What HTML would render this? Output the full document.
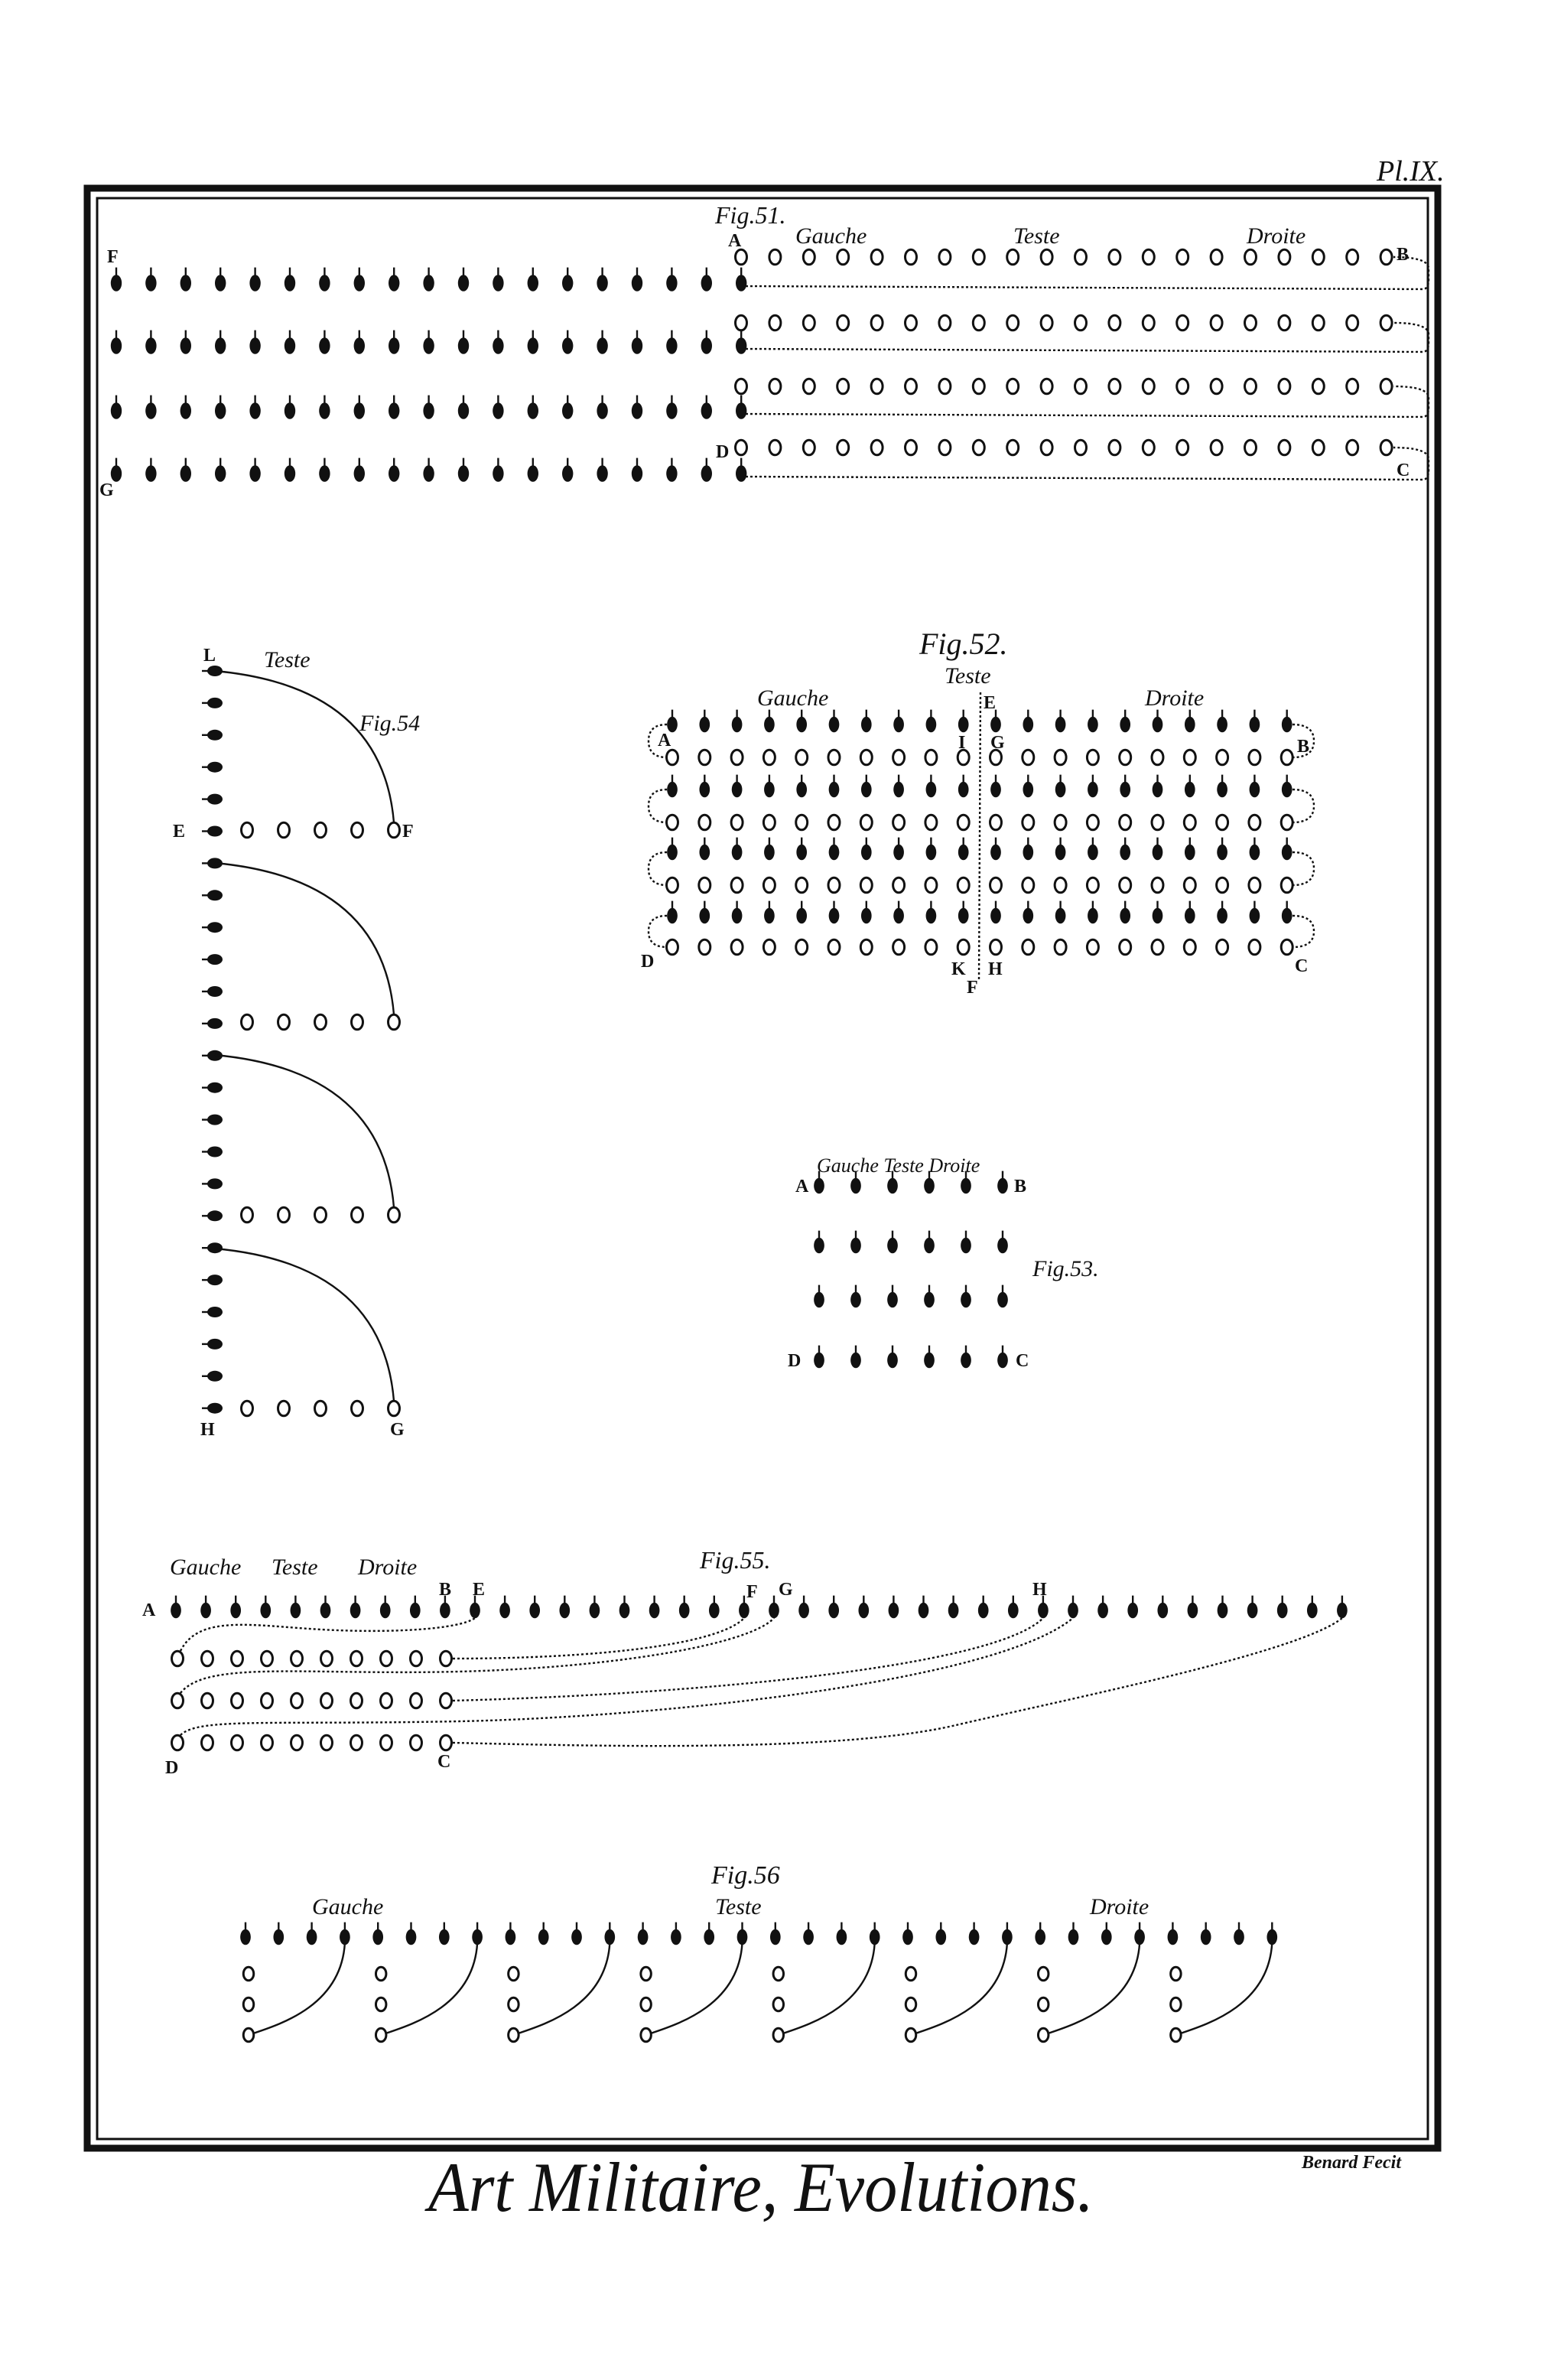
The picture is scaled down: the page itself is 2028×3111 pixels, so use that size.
<!DOCTYPE html>
<html><head><meta charset="utf-8">
<style>
html,body{margin:0;padding:0;background:#fff;}
svg{display:block;}
text{font-family:"Liberation Serif",serif;font-style:italic;fill:#111;}
.L{font-style:normal;font-weight:bold;font-size:24px;}
.w{font-size:30px;}
</style></head>
<body>
<svg id="s" width="2028" height="3111" viewBox="0 0 2028 3111" xmlns="http://www.w3.org/2000/svg">
<rect width="2028" height="3111" fill="#fff"/>
<rect x="114" y="246" width="1766" height="2562" fill="none" stroke="#111" stroke-width="9"/>
<rect x="127" y="259" width="1740" height="2537" fill="none" stroke="#111" stroke-width="3"/>
<text x="1800" y="236" style="font-size:38px">Pl.IX.</text>

<g id="g" fill="#111" stroke="#111"></g>

<text x="935" y="292" style="font-size:32px">Fig.51.</text>
<text class="L" x="952" y="322">A</text>
<text class="w" x="1040" y="318">Gauche</text>
<text class="w" x="1325" y="318">Teste</text>
<text class="w" x="1630" y="318">Droite</text>
<text class="L" x="1826" y="340">B</text>
<text class="L" x="140" y="343">F</text>
<text class="L" x="130" y="648">G</text>
<text class="L" x="936" y="598">D</text>
<text class="L" x="1826" y="622">C</text>

<text x="1202" y="855" style="font-size:40px">Fig.52.</text>
<text class="w" x="1235" y="893">Teste</text>
<text class="w" x="990" y="922">Gauche</text>
<text class="L" x="1286" y="926">E</text>
<text class="w" x="1497" y="922">Droite</text>
<text class="L" x="860" y="975">A</text>
<text class="L" x="1253" y="978">I</text>
<text class="L" x="1295" y="978">G</text>
<text class="L" x="1696" y="983">B</text>
<text class="L" x="838" y="1264">D</text>
<text class="L" x="1244" y="1274">K</text>
<text class="L" x="1292" y="1274">H</text>
<text class="L" x="1264" y="1298">F</text>
<text class="L" x="1693" y="1270">C</text>

<text class="L" x="266" y="864">L</text>
<text class="w" x="345" y="872">Teste</text>
<text x="470" y="955" style="font-size:30px">Fig.54</text>
<text class="L" x="226" y="1094">E</text>
<text class="L" x="526" y="1094">F</text>
<text class="L" x="262" y="1876">H</text>
<text class="L" x="510" y="1876">G</text>

<text style="font-size:26px" x="1068" y="1532">Gauche Teste Droite</text>
<text class="L" x="1040" y="1558">A</text>
<text class="L" x="1326" y="1558">B</text>
<text class="L" x="1030" y="1786">D</text>
<text class="L" x="1328" y="1786">C</text>
<text x="1350" y="1668" style="font-size:30px">Fig.53.</text>

<text class="w" x="222" y="2058">Gauche</text>
<text class="w" x="355" y="2058">Teste</text>
<text class="w" x="468" y="2058">Droite</text>
<text x="915" y="2050" style="font-size:32px">Fig.55.</text>
<text class="L" x="186" y="2112">A</text>
<text class="L" x="574" y="2085">B</text>
<text class="L" x="618" y="2085">E</text>
<text class="L" x="976" y="2088">F</text>
<text class="L" x="1018" y="2085">G</text>
<text class="L" x="1350" y="2085">H</text>
<text class="L" x="216" y="2318">D</text>
<text class="L" x="572" y="2310">C</text>

<text x="930" y="2462" style="font-size:34px">Fig.56</text>
<text class="w" x="408" y="2502">Gauche</text>
<text class="w" x="935" y="2502">Teste</text>
<text class="w" x="1425" y="2502">Droite</text>

<text x="1702" y="2834" style="font-size:24px;font-weight:bold">Benard Fecit</text>
<text x="560" y="2890" textLength="870" lengthAdjust="spacingAndGlyphs" style="font-size:92px">Art Militaire, Evolutions.</text>
</svg>
<script>
var g=document.getElementById('g'),NS='http://www.w3.org/2000/svg';
function el(t,a){var e=document.createElementNS(NS,t);for(var k in a)e.setAttribute(k,a[k]);g.appendChild(e);return e;}
function drop(x,y,s){s=(s||1)*1.2;el('ellipse',{cx:x,cy:y,rx:6*s,ry:9*s,stroke:'none'});el('line',{x1:x,y1:y-7*s,x2:x,y2:y-17*s,'stroke-width':2.4});}
function dropL(x,y){el('ellipse',{cx:x,cy:y,rx:10,ry:7,stroke:'none'});el('line',{x1:x-6,y1:y,x2:x-17,y2:y,'stroke-width':2.4});}
function ring(x,y,s){s=(s||1)*1.15;el('ellipse',{cx:x,cy:y,rx:6.5*s,ry:8.5*s,fill:'none','stroke-width':3});}
function path(d,dash){var a={d:d,fill:'none','stroke-width':2.4};if(dash)a['stroke-dasharray']='3 3';el('path',a);}
var i,j;
var by=[370,452,537,619],oy=[336,422,505,585];
for(j=0;j<4;j++){
 for(i=0;i<19;i++)drop(152+i*45.4,by[j]);
 for(i=0;i<20;i++)ring(969+i*44.4,oy[j]);
 path('M975,'+(by[j]+4)+' L1860,'+(by[j]+8)+' Q1868,'+(by[j]+8)+' 1868,'+(by[j]-4)+' L1868,'+(oy[j]+14)+' Q1866,'+oy[j]+' 1822,'+oy[j],true);
}
var y52=[947,990,1032,1075,1114,1157,1197,1238];
for(j=0;j<8;j++)for(i=0;i<20;i++){var x=879+i*42.3;if(j%2==0)drop(x,y52[j],0.95);else ring(x,y52[j]);}
path('M1282,905 L1280,1282',true);
for(j=0;j<4;j++){var a=y52[2*j],b=y52[2*j+1];
 path('M872,'+a+' Q848,'+a+' 848,'+((a+b)/2)+' Q848,'+b+' 872,'+b,true);
 path('M1690,'+a+' Q1718,'+a+' 1718,'+((a+b)/2)+' Q1718,'+b+' 1690,'+b,true);}
for(i=0;i<=23;i++){var y=877+i*41.9;dropL(281,y);}
var ry=[1085,1336,1588,1841],ty=[877,1128,1379,1632];
for(j=0;j<4;j++){
 for(i=0;i<5;i++)ring(323+i*48,ry[j]);
 path('M281,'+ty[j]+' Q500,'+(ty[j]+20)+' 515,'+(ry[j]-10));
}
var y53=[1550,1628,1699,1778];
for(j=0;j<4;j++)for(i=0;i<6;i++)drop(1071+i*48,y53[j],0.95);
var bx=function(k){return 230+k*39.1;};
for(i=0;i<40;i++)drop(bx(i),2105,0.95);
var r55=[2168,2223,2278];
for(j=0;j<3;j++)for(i=0;i<10;i++)ring(232+i*39,r55[j]);
path('M236,2158 C260,2110 330,2125 420,2130 S600,2130 '+bx(10)+',2115',true);
path('M592,2168 C780,2168 940,2150 '+bx(19)+',2115',true);
path('M236,2213 C270,2170 400,2190 600,2185 S980,2150 '+bx(20)+',2115',true);
path('M592,2223 C900,2215 1300,2180 '+bx(29)+',2115',true);
path('M236,2268 C260,2245 350,2255 600,2250 S1300,2200 '+bx(30)+',2115',true);
path('M592,2278 C800,2283 1100,2290 1250,2255 S1700,2160 '+bx(39)+',2115',true);
var bx6=function(k){return 321+k*43.3;};
for(i=0;i<32;i++)drop(bx6(i),2532,0.95);
for(j=0;j<8;j++){var x0=bx6(4*j)+4;
 ring(x0,2580,0.9);ring(x0,2620,0.9);ring(x0,2660,0.9);
 var x1=bx6(4*j+3);path('M'+(x0+6)+',2658 C'+(x0+45)+',2645 '+(x1-5)+',2620 '+x1+',2540');}
</script>
</body></html>
